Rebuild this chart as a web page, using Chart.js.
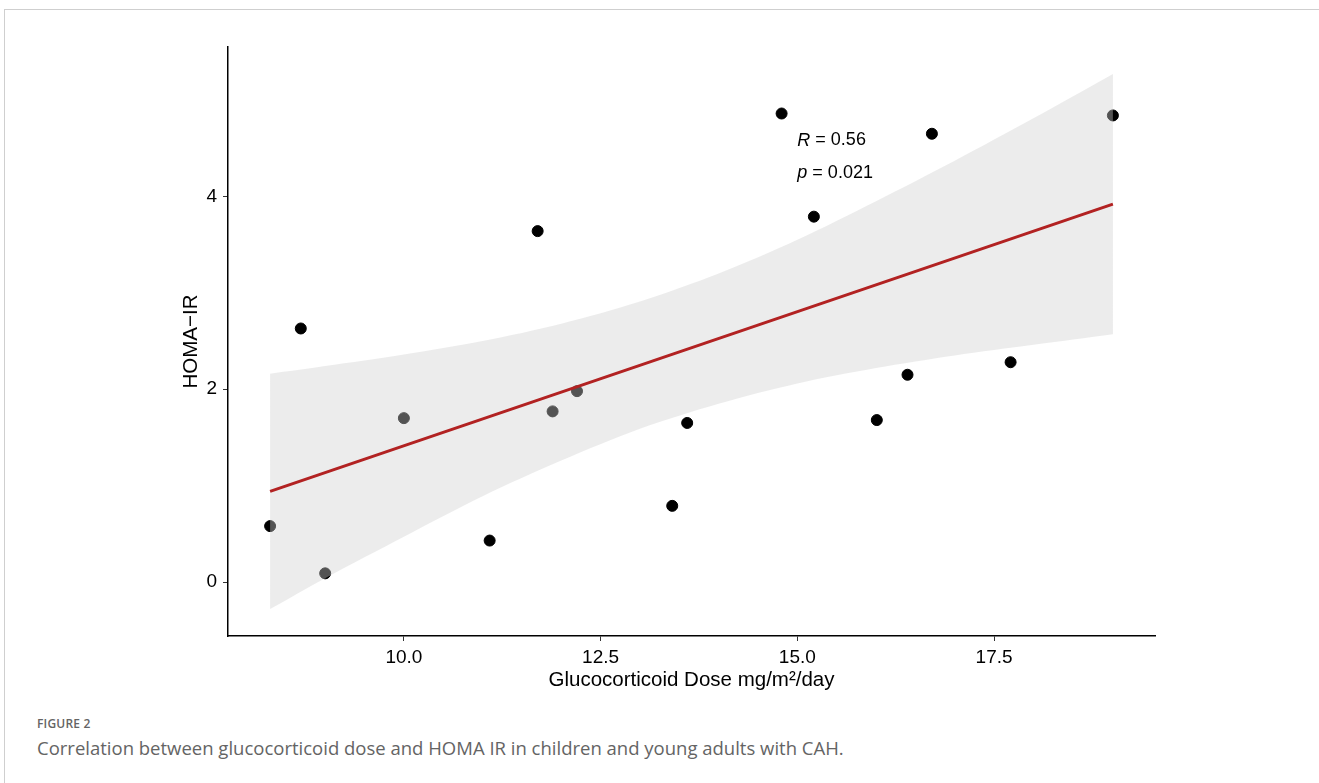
<!DOCTYPE html>
<html lang='en'>

<head>
  <meta charset='UTF-8'>
  <title>Figure 2 - Glucocorticoid dose vs HOMA-IR</title>
  <style>
    html, body {
      margin: 0;
      padding: 0;
      background: #fff;
      width: 1319px;
      height: 783px;
      overflow: hidden;
    }

    .frame {
      position: absolute;
      left: 4px;
      top: 9px;
      width: 1400px;
      height: 900px;
      border-top: 1px solid #cfcfcf;
      border-left: 1px solid #cfcfcf;
    }

    #chart {
      position: absolute;
      left: 0;
      top: 0;
    }

    .caption {
      position: absolute;
      left: 37px;
      top: 714px;
      font-family: "Open Sans", sans-serif;
      color: #646464;
    }

    .caption .label {
      font-size: 12px;
      font-weight: 600;
      line-height: 20px;
      letter-spacing: 0.2px;
    }

    .caption .text {
      font-size: 18.5px;
      line-height: 28px;
    }
  </style>
</head>

<body>
<div class="frame"></div>
<canvas id="chart" width="1319" height="700"></canvas>
<div class="caption">
  <div class="label">FIGURE 2</div>
  <div class="text">Correlation between glucocorticoid dose and HOMA IR in children and young adults with CAH.</div>
</div>

<script src="https://cdn.jsdelivr.net/npm/chart.js@4.4.1/dist/chart.umd.min.js"></script>
<script>
  const doseX = [8.30, 8.69, 9.00, 10.00, 11.09, 11.70, 11.89, 12.20, 13.41, 13.60, 14.80, 15.21, 16.01, 16.40, 16.71, 17.71, 19.01];
  const homaY = [0.58, 2.63, 0.09, 1.70, 0.43, 3.64, 1.77, 1.98, 0.79, 1.65, 4.86, 3.79, 1.68, 2.15, 4.65, 2.28, 4.84];

  // fitted line and its confidence band
  const fitX = [8.30, 19.01];
  const fitY = [0.94, 3.92];
  const bandX = [8.30, 9, 10, 11, 12, 13, 14, 15, 16, 17, 18, 19.01];
  const bandUpper = [2.16, 2.24, 2.36, 2.50, 2.68, 2.91, 3.20, 3.55, 3.95, 4.37, 4.81, 5.27];
  const bandLower = [-0.28, 0.04, 0.47, 0.89, 1.26, 1.59, 1.85, 2.06, 2.22, 2.35, 2.46, 2.57];

  // axes
  const xTicks = [10, 12.5, 15, 17.5];
  const xTickLabels = ['10.0', '12.5', '15.0', '17.5'];
  const yTicks = [0, 2, 4];
  const yTickLabels = ['0', '2', '4'];

  // correlation label
  const corrText = [['R', ' = 0.56'], ['p', ' = 0.021']];
  const corrX = 15.0;
  const corrY = [4.58, 4.24];

  const pts = (xs, ys) => xs.map((x, i) => ({x: x, y: ys[i]}));
  const FONT = '"Liberation Sans", Arial, sans-serif';

  const corrLabel = {
    id: 'corrLabel',
    afterDatasetsDraw(chart) {
      const ctx = chart.ctx;
      const xs = chart.scales.x, ys = chart.scales.y;
      ctx.save();
      ctx.fillStyle = '#000';
      ctx.textBaseline = 'middle';
      ctx.textAlign = 'left';
      corrText.forEach((parts, i) => {
        let px = xs.getPixelForValue(corrX);
        const py = ys.getPixelForValue(corrY[i]);
        ctx.font = 'italic 18px ' + FONT;
        ctx.fillText(parts[0], px, py);
        px += ctx.measureText(parts[0]).width;
        ctx.font = '18px ' + FONT;
        ctx.fillText(parts[1], px, py);
      });
      ctx.restore();
    }
  };

  const ctx = document.getElementById('chart').getContext('2d');
  const chart = new Chart(ctx, {
    type: 'line',
    data: {
      datasets: [
        {
          // points, drawn first so the band tints the ones inside it
          type: 'scatter',
          data: pts(doseX, homaY),
          backgroundColor: '#000',
          borderColor: '#000',
          pointRadius: 5.5,
          pointHoverRadius: 5.5,
          order: 3
        },
        {
          // lower edge of band
          data: pts(bandX, bandLower),
          borderWidth: 0,
          borderColor: 'rgba(0,0,0,0)',
          pointRadius: 0,
          fill: false,
          tension: 0.3,
          order: 2
        },
        {
          // upper edge of band, filled down to the lower edge
          data: pts(bandX, bandUpper),
          borderWidth: 0,
          borderColor: 'rgba(0,0,0,0)',
          backgroundColor: 'rgba(207,207,207,0.4)',
          pointRadius: 0,
          fill: 1,
          tension: 0.3,
          order: 1
        },
        {
          // regression line
          data: pts(fitX, fitY),
          borderColor: '#b22222',
          borderWidth: 3,
          pointRadius: 0,
          fill: false,
          order: 0
        }
      ]
    },
    options: {
      responsive: false,
      animation: false,
      layout: {
        padding: {left: 179, top: 47, right: 164, bottom: 0}
      },
      plugins: {
        legend: {display: false},
        tooltip: {enabled: false}
      },
      scales: {
        x: {
          type: 'linear',
          min: 7.765,
          max: 19.545,
          afterFit: (s) => { s.height = 64; },
          afterBuildTicks: (s) => { s.ticks = xTicks.map(v => ({value: v})); },
          border: {display: true, color: '#000', width: 1.5},
          grid: {drawOnChartArea: false, drawTicks: true, tickLength: 5, color: '#333', lineWidth: 1},
          ticks: {
            padding: 5,
            color: '#000',
            font: {family: FONT, size: 19},
            maxRotation: 0,
            callback: (v) => xTickLabels[xTicks.indexOf(v)]
          },
          title: {
            display: true,
            text: 'Glucocorticoid Dose mg/m\u00b2/day',
            color: '#000',
            font: {family: FONT, size: 20.5},
            padding: {top: 0, bottom: 7}
          }
        },
        y: {
          type: 'linear',
          min: -0.56,
          max: 5.55,
          afterFit: (s) => { s.width = 49; },
          afterBuildTicks: (s) => { s.ticks = yTicks.map(v => ({value: v})); },
          border: {display: true, color: '#000', width: 1.5},
          grid: {drawOnChartArea: false, drawTicks: true, tickLength: 5, color: '#333', lineWidth: 1},
          ticks: {
            padding: 6,
            color: '#000',
            font: {family: FONT, size: 19},
            callback: (v) => yTickLabels[yTicks.indexOf(v)]
          },
          title: {
            display: true,
            text: 'HOMA\u2212IR',
            color: '#000',
            font: {family: FONT, size: 20.5},
            padding: {top: 0, bottom: 0}
          }
        }
      }
    },
    plugins: [corrLabel]
  });
</script>
</body>

</html>
